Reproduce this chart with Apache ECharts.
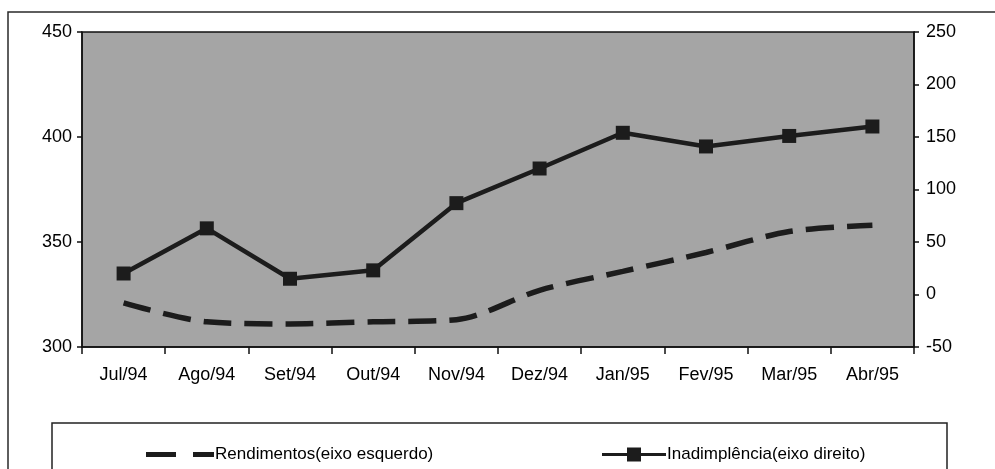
<!DOCTYPE html>
<html>
<head>
<meta charset="utf-8">
<script src="https://cdn.jsdelivr.net/npm/echarts@6/dist/echarts.min.js"></script>
<style>
  html, body { margin: 0; padding: 0; background: #ffffff; }
  #chart { width: 995px; height: 469px; }
</style>
</head>
<body>
<div id="chart"></div>
<script>
// Monthly categories
const months = ['Jul/94', 'Ago/94', 'Set/94', 'Out/94', 'Nov/94', 'Dez/94', 'Jan/95', 'Fev/95', 'Mar/95', 'Abr/95'];
// Rendimentos (left axis)
const rendimentos = [321, 312, 311, 312, 313, 327, 336, 345, 355, 358];
// Inadimplência (right axis)
const inadimplencia = [20, 63, 15, 23, 87, 120, 154, 141, 151, 160];

const seriesNames = ['Rendimentos(eixo esquerdo)', 'Inadimplência(eixo direito)'];
const leftAxisRange = [300, 450, 50];
const rightAxisRange = [-50, 250, 50];

const FONT = '"Liberation Sans", Arial, sans-serif';
const ink = '#1c1c1c';

// Legend glyphs: two dashes, and a line crossed by a square marker
const dashIcon = 'path://M0,0H30V5H0Z M47,0H68V5H47Z';
const markerIcon = 'path://M0,5.5H25V0H39V5.5H64V8.5H39V14H25V8.5H0Z';

const chart = echarts.init(document.getElementById('chart'), null, { renderer: 'canvas' });

const axisLabelStyle = { color: '#000', fontFamily: FONT, fontSize: 18 };

chart.setOption({
  animation: false,
  backgroundColor: '#ffffff',
  graphic: [
    {
      type: 'rect', z: 0,
      shape: { x: 8, y: 12, width: 1100, height: 1000 },
      style: { fill: 'none', stroke: '#2a2a2a', lineWidth: 1.5 }
    },
    {
      type: 'rect', z: 1,
      shape: { x: 52, y: 423, width: 895, height: 200 },
      style: { fill: 'none', stroke: '#222', lineWidth: 1.5 }
    }
  ],
  grid: {
    left: 82, right: 81, top: 32, bottom: 122,
    show: true, backgroundColor: '#a5a5a5', borderColor: '#111', borderWidth: 1.5
  },
  legend: [
    {
      left: 141, top: 441, itemWidth: 68, itemHeight: 5, itemGap: 0,
      data: [{ name: seriesNames[0], icon: dashIcon }],
      itemStyle: { color: ink },
      textStyle: { color: '#000', fontFamily: FONT, fontSize: 17, padding: [0, 0, 0, -4] }
    },
    {
      left: 597, top: 441, itemWidth: 64, itemHeight: 14, itemGap: 0,
      data: [{ name: seriesNames[1], icon: markerIcon }],
      itemStyle: { color: ink },
      textStyle: { color: '#000', fontFamily: FONT, fontSize: 17, padding: [0, 0, 0, -4] }
    }
  ],
  xAxis: {
    type: 'category',
    data: months,
    boundaryGap: true,
    axisLine: { onZero: false, lineStyle: { color: '#111', width: 1.5 } },
    axisTick: { show: true, length: 7, inside: false, lineStyle: { color: '#111', width: 1.5 } },
    axisLabel: Object.assign({ margin: 19 }, axisLabelStyle),
    splitLine: { show: false }
  },
  yAxis: [
    {
      type: 'value', position: 'left',
      min: leftAxisRange[0], max: leftAxisRange[1], interval: leftAxisRange[2],
      axisLine: { show: true, lineStyle: { color: '#111', width: 1.5 } },
      axisTick: { show: true, length: 5, lineStyle: { color: '#111', width: 1.5 } },
      axisLabel: Object.assign({ margin: 10 }, axisLabelStyle),
      splitLine: { show: false }
    },
    {
      type: 'value', position: 'right',
      min: rightAxisRange[0], max: rightAxisRange[1], interval: rightAxisRange[2],
      axisLine: { show: true, lineStyle: { color: '#111', width: 1.5 } },
      axisTick: { show: true, length: 5, lineStyle: { color: '#111', width: 1.5 } },
      axisLabel: Object.assign({ margin: 12 }, axisLabelStyle),
      splitLine: { show: false }
    }
  ],
  series: [
    {
      name: seriesNames[0],
      type: 'line',
      yAxisIndex: 0,
      data: rendimentos,
      smooth: 0.3,
      showSymbol: false,
      symbol: 'none',
      lineStyle: { color: ink, width: 5.5, type: [28, 13], cap: 'butt' },
      itemStyle: { color: ink },
      z: 3
    },
    {
      name: seriesNames[1],
      type: 'line',
      yAxisIndex: 1,
      data: inadimplencia,
      symbol: 'rect',
      symbolSize: 14,
      showSymbol: true,
      lineStyle: { color: ink, width: 4.5 },
      itemStyle: { color: ink, borderWidth: 0 },
      z: 4
    }
  ]
});
</script>
</body>
</html>
